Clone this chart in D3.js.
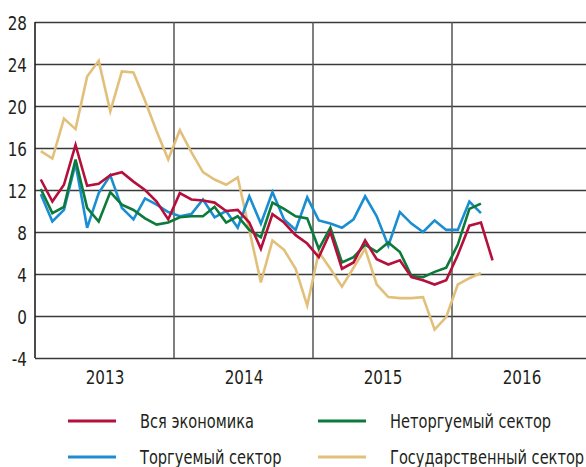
<!DOCTYPE html>
<html>
<head>
<meta charset="utf-8">
<script src="https://cdn.jsdelivr.net/npm/d3@7"></script>
<style>
  html, body { margin: 0; padding: 0; background: #fff; }
  svg { display: block; }
  text { font-family: "DejaVu Sans", sans-serif; fill: #231f20; }
</style>
</head>
<body>
<div id="chart"></div>
<script>
// годы (подписи оси X), по 12 месяцев, начиная с января 2013
var years = ["2013", "2014", "2015", "2016"];
var yTicks = [-4, 0, 4, 8, 12, 16, 20, 24, 28];

// помесячные значения, %
var total = [13.0, 10.9, 12.5, 16.3, 12.4, 12.6, 13.4, 13.7, 12.8, 12.0, 10.9, 9.2,
             11.7, 11.1, 11.0, 10.8, 10.0, 10.1, 8.9, 6.4, 9.7, 8.9, 7.7, 6.9,
             5.6, 8.0, 4.5, 5.1, 7.2, 5.4, 4.9, 5.3, 3.7, 3.4, 3.0, 3.4,
             5.8, 8.6, 8.9, 5.3];
var nonTraded = [12.1, 9.8, 10.4, 14.9, 10.3, 9.0, 11.8, 10.6, 10.1, 9.3, 8.7, 8.9,
                 9.4, 9.5, 9.5, 10.4, 8.9, 9.5, 8.2, 7.5, 10.8, 10.2, 9.5, 9.3,
                 6.4, 8.4, 5.1, 5.6, 6.8, 6.1, 7.0, 6.1, 3.8, 3.7, 4.2, 4.6,
                 6.8, 10.2, 10.7];
var traded = [11.6, 9.0, 10.1, 14.5, 8.4, 11.7, 13.4, 10.3, 9.2, 11.2, 10.6, 9.9,
              9.5, 9.7, 11.1, 9.4, 10.0, 8.4, 11.4, 8.8, 11.8, 9.2, 8.2, 11.3,
              9.1, 8.8, 8.4, 9.2, 11.4, 9.5, 6.7, 9.9, 8.8, 8.0, 9.1, 8.2,
              8.2, 10.9, 9.8];
var state = [15.7, 15.0, 18.8, 17.8, 22.8, 24.3, 19.5, 23.3, 23.2, 20.5, 17.6, 14.9,
             17.7, 15.6, 13.7, 13.0, 12.5, 13.2, 8.2, 3.2, 7.2, 6.3, 4.5, 1.0,
             6.1, 4.5, 2.8, 4.6, 6.4, 3.0, 1.8, 1.7, 1.7, 1.8, -1.3, -0.1,
             3.0, 3.6, 4.1];

var seriesNames = ["Вся экономика", "Неторгуемый сектор", "Торгуемый сектор", "Государственный сектор"];
var seriesColors = ["#b5103c", "#0c7a3a", "#1b8ed2", "#e2c07c"];
var seriesData = [total, nonTraded, traded, state];

(function () {
    var W = 586, H = 467;
    var mLeft = 35, mTop = 22, mBottom = 358;
    // узкий шрифт оригинала имитируем сжатием по горизонтали
    var squeeze = 0.8;

    var svg = d3.select("#chart").append("svg")
        .attr("width", W)
        .attr("height", H);

    var x = d3.scaleLinear().domain([0, years.length * 12]).range([mLeft, 591]);
    var y = d3.scaleLinear().domain([-4, 28]).range([mBottom, mTop]);

    // горизонтальная сетка + подписи
    var yAxis = d3.axisLeft(y).tickValues(yTicks).tickSize(-(W - mLeft)).tickPadding(0)
        .tickFormat(function (d) { return String(d); });
    var gy = svg.append("g").attr("transform", "translate(" + mLeft + ",0)").call(yAxis);
    gy.select(".domain").remove();
    gy.selectAll(".tick line").attr("stroke", "#3a3a3a").attr("stroke-width", 1.3);
    gy.selectAll(".tick text")
        .attr("font-size", 19)
        .attr("x", 0)
        .attr("dy", "0.4em")
        .attr("transform", "translate(-8,0) scale(" + squeeze + ",1)");

    // вертикальные линии по границам лет
    svg.append("g").selectAll("line")
        .data(d3.range(0, years.length))
        .enter().append("line")
        .attr("x1", function (d) { return x(d * 12); })
        .attr("x2", function (d) { return x(d * 12); })
        .attr("y1", mTop)
        .attr("y2", mBottom)
        .attr("stroke", function (d) { return d ? "#555" : "#231f20"; })
        .attr("stroke-width", function (d) { return d ? 1.5 : 1.6; });

    // подписи лет
    var xAxis = d3.axisBottom(x)
        .tickValues(years.map(function (d, i) { return i * 12 + 6; }))
        .tickFormat(function (d, i) { return years[i]; })
        .tickSize(0).tickPadding(13);
    var gx = svg.append("g").attr("transform", "translate(0," + mBottom + ")").call(xAxis);
    gx.select(".domain").remove();
    gx.selectAll(".tick text")
        .attr("font-size", 19)
        .attr("transform", "scale(" + squeeze + ",1)");

    // линии рядов
    var line = d3.line()
        .x(function (d, i) { return x(i + 0.5); })
        .y(function (d) { return y(d); });

    // порядок отрисовки: жёлтая, синяя, зелёная, красная сверху
    [3, 2, 1, 0].forEach(function (k) {
        svg.append("path")
            .datum(seriesData[k])
            .attr("d", line)
            .attr("fill", "none")
            .attr("stroke", seriesColors[k])
            .attr("stroke-width", 2.6)
            .attr("stroke-linejoin", "miter");
    });

    // легенда
    var legendPos = [[68, 421], [318, 421], [68, 457], [318, 457]];
    var lg = svg.append("g").selectAll("g")
        .data(seriesNames)
        .enter().append("g")
        .attr("transform", function (d, i) { return "translate(" + legendPos[i][0] + "," + legendPos[i][1] + ")"; });
    lg.append("line")
        .attr("x1", 0).attr("x2", 48)
        .attr("stroke", function (d, i) { return seriesColors[i]; })
        .attr("stroke-width", 3);
    lg.append("text")
        .attr("dy", "0.36em")
        .attr("font-size", 20)
        .attr("transform", "translate(72,0) scale(0.73,1)")
        .text(function (d) { return d; });
})();
</script>
</body>
</html>
